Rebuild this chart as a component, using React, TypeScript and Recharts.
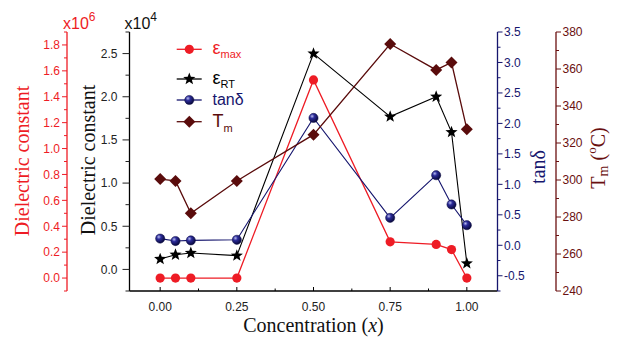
import React from 'react';
import { LineChart, Line, XAxis, YAxis, Legend } from 'recharts';

// concentration x
const conc = [0, 0.05, 0.1, 0.25, 0.5, 0.75, 0.9, 0.95, 1.0];
// eps max (x10^6)
const epsMax = [0.0, 0.0, 0.0, 0.0, 1.53, 0.28, 0.26, 0.22, 0.0];
// eps RT (x10^4)
const epsRT = [0.12, 0.17, 0.19, 0.16, 2.5, 1.77, 2.0, 1.59, 0.07];
const tanD = [0.11, 0.07, 0.08, 0.09, 2.09, 0.45, 1.15, 0.67, 0.33];
const tm = [300.5, 299.5, 282, 299.5, 324.5, 373.5, 359.5, 363.5, 327.5];

const xMajor = [0, 0.25, 0.5, 0.75, 1];
const xMinor = [0.125, 0.375, 0.625, 0.875];
const redMajor = [0, 0.2, 0.4, 0.6, 0.8, 1.0, 1.2, 1.4, 1.6, 1.8];
const redMinor = [-0.1, 0.1, 0.3, 0.5, 0.7, 0.9, 1.1, 1.3, 1.5, 1.7, 1.9];
const rtMajor = [0, 0.5, 1.0, 1.5, 2.0, 2.5];
const rtMinor = [-0.25, 0.25, 0.75, 1.25, 1.75, 2.25, 2.75];
const tanMajor = [-0.5, 0, 0.5, 1.0, 1.5, 2.0, 2.5, 3.0, 3.5];
const tanMinor = [-0.75, -0.25, 0.25, 0.75, 1.25, 1.75, 2.25, 2.75, 3.25];
const tmMajor = [240, 260, 280, 300, 320, 340, 360, 380];
const tmMinor = [250, 270, 290, 310, 330, 350, 370];

const data = conc.map((x, i) => ({ x, emax: epsMax[i], ert: epsRT[i], tan: tanD[i], tm: tm[i] }));

const RED = '#ee1c25';
const NAVY = '#16166e';
const BROWN = '#5a0c0c';
const TMCOL = '#6a1010';
const SANS = 'Liberation Sans, Arial, sans-serif';
const SERIF = 'Liberation Serif, Times New Roman, serif';

const sorted = (a: number[], b: number[]) => [...a, ...b].sort((p, q) => p - q);

function makeTick(side: 'left' | 'right' | 'bottom', majors: number[], color: string, digits: number, majorLen: number, minorLen: number, gap: number) {
  return (props: any) => {
    const { x, y, payload } = props;
    const v = payload.value;
    const major = majors.some((m) => Math.abs(m - v) < 1e-9);
    const len = major ? majorLen : minorLen;
    const label = major ? v.toFixed(digits) : null;
    if (side === 'left') {
      return (
        <g>
          <line x1={x} x2={x - len} y1={y} y2={y} stroke={color} strokeWidth={1} />
          {label && <text x={x - majorLen - gap} y={y} dy="0.36em" textAnchor="end" fill={color} fontSize={12} fontFamily={SANS}>{label}</text>}
        </g>
      );
    }
    if (side === 'right') {
      return (
        <g>
          <line x1={x} x2={x + len} y1={y} y2={y} stroke={color} strokeWidth={1} />
          {label && <text x={x + majorLen + gap} y={y} dy="0.36em" textAnchor="start" fill={color} fontSize={12} fontFamily={SANS}>{label}</text>}
        </g>
      );
    }
    return (
      <g>
        <line x1={x} x2={x} y1={y} y2={y - len} stroke="#000" strokeWidth={1} />
        {label && <text x={x} y={y + 20} textAnchor="middle" fill="#222" fontSize={12} fontFamily={SANS}>{label}</text>}
      </g>
    );
  };
}

function sideTitle(vb: any, dx: number, cy: number, color: string, content: React.ReactNode, power?: string, pdx?: number) {
  const cx = vb.x + dx;
  return (
    <g>
      <text transform={`translate(${cx},${cy}) rotate(-90)`} textAnchor="middle" dominantBaseline="central" fill={color} fontSize={20} fontFamily={SERIF}>
        {content}
      </text>
      {power && (
        <text x={vb.x + vb.width + (pdx ?? 0)} y={28.5} fill={color} fontSize={16} fontFamily={SANS}>
          x10<tspan dy={-8} fontSize={12}>{power}</tspan>
        </text>
      )}
    </g>
  );
}

function Ball({ cx, cy, r }: { cx: number; cy: number; r: number }) {
  return (
    <g>
      <defs>
        <radialGradient id="ballG" cx="35%" cy="32%" r="70%">
          <stop offset="0%" stopColor="#b8bcf0" />
          <stop offset="35%" stopColor="#2c2c9a" />
          <stop offset="100%" stopColor="#07073a" />
        </radialGradient>
      </defs>
      <circle cx={cx} cy={cy} r={r} fill="url(#ballG)" stroke="#0a0a40" strokeWidth={0.5} />
    </g>
  );
}

function starPoints(cx: number, cy: number, ro: number, ri: number) {
  const pts: string[] = [];
  for (let k = 0; k < 10; k++) {
    const a = -Math.PI / 2 + (k * Math.PI) / 5;
    const r = k % 2 === 0 ? ro : ri;
    pts.push(`${cx + r * Math.cos(a)},${cy + r * Math.sin(a)}`);
  }
  return pts.join(' ');
}

function Marker({ kind, cx, cy }: { kind: string; cx: number; cy: number }) {
  if (kind === 'emax') return <circle cx={cx} cy={cy} r={4.6} fill={RED} />;
  if (kind === 'ert') return <polygon points={starPoints(cx, cy, 6.4, 2.7)} fill="#000" />;
  if (kind === 'tan') return <Ball cx={cx} cy={cy} r={4.6} />;
  return <polygon points={`${cx},${cy - 6} ${cx + 6},${cy} ${cx},${cy + 6} ${cx - 6},${cy}`} fill={BROWN} />;
}

const dotFor = (kind: string) => (p: any) => <Marker key={`${kind}-${p.index}`} kind={kind} cx={p.cx} cy={p.cy} />;

const legendRows = [14.3, 44, 65, 86.7];

function LegendBox(props: any) {
  const items = props.payload ?? [];
  return (
    <svg width={130} height={100} style={{ overflow: 'visible' }}>
      {items.map((it: any, i: number) => {
        const key = it.dataKey as string;
        const y = legendRows[i];
        const col = key === 'emax' ? RED : key === 'ert' ? '#000' : key === 'tan' ? NAVY : BROWN;
        let txt: React.ReactNode;
        if (key === 'emax') txt = <>ε<tspan dy={4} fontSize={11}>max</tspan></>;
        else if (key === 'ert') txt = <>ε<tspan dy={4} fontSize={11}>RT</tspan></>;
        else if (key === 'tan') txt = <tspan fontSize={16}>tanδ</tspan>;
        else txt = <>T<tspan dy={5} fontSize={11}>m</tspan></>;
        return (
          <g key={key}>
            <line x1={6.7} x2={31.7} y1={y} y2={y} stroke={col} strokeWidth={1.3} />
            <Marker kind={key} cx={19.3} cy={y} />
            <text x={42.5} y={y + 5} fill={col} fontSize={18} fontFamily={SANS}>{txt}</text>
          </g>
        );
      })}
    </svg>
  );
}

export default function App() {
  return (
    <div style={{ position: 'absolute', left: 0, top: 0 }}>
      <LineChart width={621} height={338} data={data} margin={{ top: 32, right: 0, bottom: 0, left: 0 }}>
        <XAxis
          xAxisId={0}
          type="number"
          dataKey="x"
          domain={[-0.1, 1.1]}
          allowDataOverflow
          ticks={sorted(xMajor, xMinor)}
          interval={0}
          height={47}
          tickSize={0}
          tickMargin={0}
          tickLine={false}
          axisLine={{ stroke: '#000', strokeWidth: 1.5 }}
          tick={makeTick('bottom', xMajor, '#000', 2, 4, 2.5, 0)}
          label={(p: any) => (
            <text x={p.viewBox.x + p.viewBox.width / 2} y={p.viewBox.y + 41} textAnchor="middle" fontSize={20} fontFamily={SERIF} fill="#111">
              Concentration (<tspan fontStyle="italic">x</tspan>)
            </text>
          )}
        />
        <YAxis
          yAxisId="left1"
          orientation="left"
          type="number"
          domain={[-0.25, 2.75]}
          allowDataOverflow
          ticks={sorted(rtMajor, rtMinor)}
          interval={0}
          width={62.5}
          tickSize={0}
          tickMargin={0}
          tickLine={false}
          axisLine={{ stroke: '#000', strokeWidth: 1.3 }}
          tick={makeTick('left', rtMajor, '#222', 1, 7, 4, 5)}
          label={(p: any) => sideTitle(p.viewBox, 21, 160, '#111', 'Dielectric constant', '4', -5)}
        />
        <YAxis
          yAxisId="left2"
          orientation="left"
          type="number"
          domain={[-0.1, 1.9]}
          allowDataOverflow
          ticks={sorted(redMajor, redMinor)}
          interval={0}
          width={67}
          tickSize={0}
          tickMargin={0}
          tickLine={false}
          axisLine={{ stroke: RED, strokeWidth: 1.3 }}
          tick={makeTick('left', redMajor, RED, 1, 5, 3, 2)}
          label={(p: any) => sideTitle(p.viewBox, 21.7, 161, RED, 'Dielectric constant', '6', -4)}
        />
        <YAxis
          yAxisId="right1"
          orientation="right"
          type="number"
          domain={[-0.75, 3.5]}
          allowDataOverflow
          ticks={sorted(tanMajor, tanMinor)}
          interval={0}
          width={58.5}
          tickSize={0}
          tickMargin={0}
          tickLine={false}
          axisLine={{ stroke: NAVY, strokeWidth: 1.3 }}
          tick={makeTick('right', tanMajor, NAVY, 1, 5, 3, 1.5)}
          label={(p: any) => sideTitle(p.viewBox, 40.5, 167, NAVY, 'tanδ')}
        />
        <YAxis
          yAxisId="right2"
          orientation="right"
          type="number"
          domain={[240, 380]}
          allowDataOverflow
          ticks={sorted(tmMajor, tmMinor)}
          interval={0}
          width={65}
          tickSize={0}
          tickMargin={0}
          tickLine={false}
          axisLine={{ stroke: TMCOL, strokeWidth: 1.3 }}
          tick={makeTick('right', tmMajor, TMCOL, 0, 5, 3, 1.5)}
          label={(p: any) =>
            sideTitle(
              p.viewBox,
              42,
              158,
              TMCOL,
              <>
                T<tspan dy={5} fontSize={14}>m</tspan>
                <tspan dy={-5}> (</tspan>
                <tspan dy={-7} fontSize={13}>o</tspan>
                <tspan dy={7}>C)</tspan>
              </>
            )
          }
        />
        <Legend
          layout="vertical"
          align="center"
          verticalAlign="middle"
          wrapperStyle={{ left: 170, top: 35, width: 130, height: 100 }}
          content={LegendBox}
        />
        <Line yAxisId="left2" dataKey="emax" stroke={RED} strokeWidth={1.3} dot={dotFor('emax')} isAnimationActive={false} />
        <Line yAxisId="left1" dataKey="ert" stroke="#000" strokeWidth={1.1} dot={dotFor('ert')} isAnimationActive={false} />
        <Line yAxisId="right1" dataKey="tan" stroke={NAVY} strokeWidth={1.1} dot={dotFor('tan')} isAnimationActive={false} />
        <Line yAxisId="right2" dataKey="tm" stroke={BROWN} strokeWidth={1.3} dot={dotFor('tm')} isAnimationActive={false} />
      </LineChart>
    </div>
  );
}
